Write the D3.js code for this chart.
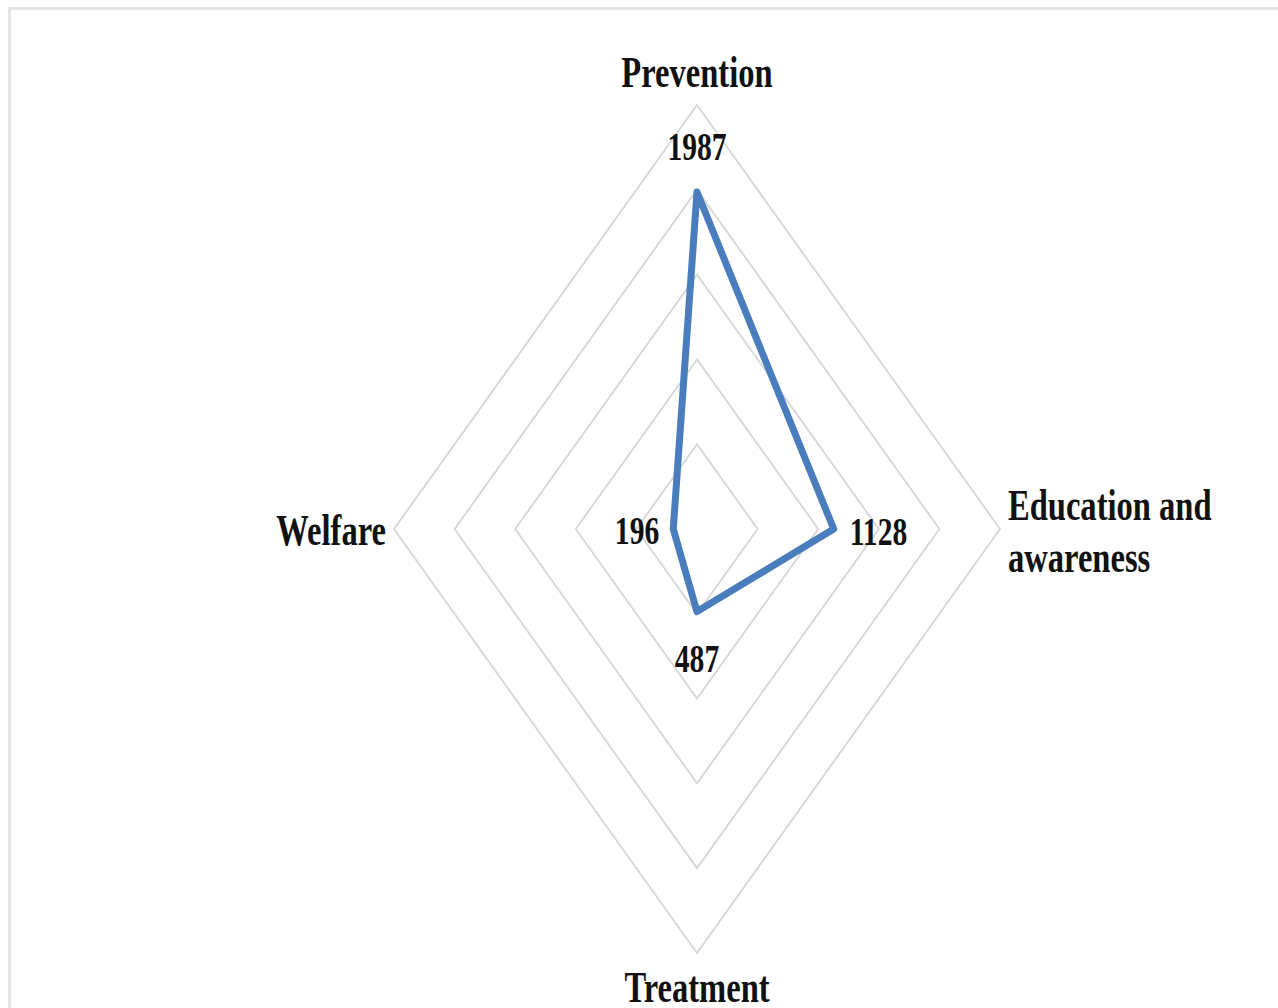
<!DOCTYPE html>
<html>
<head>
<meta charset="utf-8">
<script src="https://cdn.jsdelivr.net/npm/d3@7"></script>
<style>
  html, body { margin: 0; padding: 0; background: #ffffff; }
  svg { display: block; }
  text { font-family: "Liberation Serif", "Times New Roman", serif; font-weight: bold; fill: #111; }
</style>
</head>
<body>
<svg id="chart" width="1278" height="1008"></svg>
<script>
// Spokes, clockwise from the top
const categories = ["Prevention", "Education and awareness", "Treatment", "Welfare"];
const values = [1987, 1128, 487, 196];
const gridTicks = [500, 1000, 1500, 2000, 2500];

const width = 1278, height = 1008;
const cx = 697, cy = 529;
const rx = 303, ry = 424;   // chart is taller than it is wide
const textSqueeze = 0.74;

const svg = d3.select("#chart");

// frame
svg.append("rect")
  .attr("x", 9.5).attr("y", 8.5)
  .attr("width", 1400).attr("height", 1200)
  .attr("fill", "none")
  .attr("stroke", "#e4e4e4")
  .attr("stroke-width", 3);

const r = d3.scaleLinear().domain([0, 2500]).range([0, 1]);
const angle = i => (i / categories.length) * 2 * Math.PI;
const px = (i, v) => cx + Math.sin(angle(i)) * r(v) * rx;
const py = (i, v) => cy - Math.cos(angle(i)) * r(v) * ry;

const line = d3.line().curve(d3.curveLinearClosed);

// grid rings
svg.append("g").selectAll("path")
  .data(gridTicks)
  .join("path")
  .attr("d", t => line(categories.map((c, i) => [px(i, t), py(i, t)])))
  .attr("fill", "none")
  .attr("stroke", "#d9d9d9")
  .attr("stroke-width", 2);

// data polygon
svg.append("path")
  .datum(values)
  .attr("d", vs => line(vs.map((v, i) => [px(i, v), py(i, v)])))
  .attr("fill", "none")
  .attr("stroke", "#4a7dbd")
  .attr("stroke-width", 7)
  .attr("stroke-linejoin", "round");

function squeezedText(g, x, y, lines, anchor, size, lineGap) {
  const t = g.append("text")
    .attr("transform", `translate(${x},${y}) scale(${textSqueeze},1)`)
    .attr("text-anchor", anchor)
    .style("font-size", size + "px");
  lines.forEach((l, k) => {
    t.append("tspan").attr("x", 0).attr("dy", k === 0 ? 0 : lineGap).text(l);
  });
  return t;
}

const labels = svg.append("g");
// category labels
squeezedText(labels, cx, 87, ["Prevention"], "middle", 44, 0);
squeezedText(labels, 1008, 520, ["Education and", "awareness"], "start", 44, 52);
squeezedText(labels, cx, 1002, ["Treatment"], "middle", 44, 0);
squeezedText(labels, 386, 545, ["Welfare"], "end", 44, 0);

// value labels
const valueLabelPos = [
  { dx: 0, dy: -32, anchor: "middle" },
  { dx: 16, dy: 16, anchor: "start" },
  { dx: 0, dy: 60, anchor: "middle" },
  { dx: -14, dy: 15, anchor: "end" }
];
values.forEach((v, i) => {
  const p = valueLabelPos[i];
  squeezedText(labels, px(i, v) + p.dx, py(i, v) + p.dy, [String(v)], p.anchor, 40, 0);
});
</script>
</body>
</html>
